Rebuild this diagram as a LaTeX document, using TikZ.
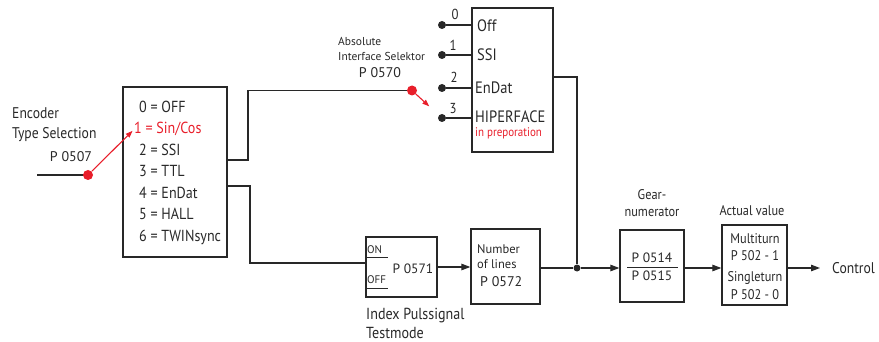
\documentclass[tikz,border=0pt]{standalone}
\usepackage{fontspec}
\setmainfont{PT Sans}[FakeStretch=0.88]
\newfontfamily\lblfont{PT Sans}
\usepackage{xcolor}
\usetikzlibrary{arrows.meta,positioning}
\definecolor{selred}{RGB}{232,30,42}
\definecolor{ink}{RGB}{40,40,40}
\newcommand{\fsz}[1]{\fontsize{#1}{#1}\selectfont}
\tikzset{
  blk/.style={draw=ink, line width=1.3pt, inner sep=0pt},
  txt/.style={inner sep=0pt, anchor=base west, text=ink},
  ctr/.style={inner sep=0pt, anchor=base, text=ink},
  wire/.style={line width=1.2pt, draw=ink},
  flowarr/.style={wire, -{Triangle[length=9pt,width=6.5pt]}},
  selarr/.style={line width=1.1pt, draw=selred, -{Triangle[length=7pt,width=5pt]}},
  reddot/.style={circle, fill=selred, inner sep=0pt, minimum size=10pt},
  contact/.style={circle, fill=ink, inner sep=0pt, minimum size=8pt},
}

\begin{document}
\begin{tikzpicture}[x=1pt, y=-1pt]
  \useasboundingbox (0,0) rectangle (879,342);
  % encoder type selection
  \node[txt, font=\fsz{15.5}] (enclblA) at (12,118.5) {Encoder};
  \node[txt, font=\fsz{15.5}] (enclblB) at (12,138.5) {Type Selection};
  \node[ctr, font=\lblfont\fsz{14}] (p507) at (71,162) {P 0507};
  \coordinate (encin) at (37,175);
  \node[blk, minimum width=104pt, minimum height=170pt] (enc) at (175,172) {};
  \node[txt, font=\fsz{16}] (opt0) at (139,112.5) {0 = OFF};
  \node[txt, font=\fsz{16}, text=selred] (opt1) at (134,134) {1 = Sin/Cos};
  \node[txt, font=\fsz{16}] (opt2) at (139,155.5) {2 = SSI};
  \node[txt, font=\fsz{16}] (opt3) at (139,177) {3 = TTL};
  \node[txt, font=\fsz{16}] (opt4) at (139,198.5) {4 = EnDat};
  \node[txt, font=\fsz{16}] (opt5) at (139,220) {5 = HALL};
  \node[txt, font=\fsz{16}] (opt6) at (139,241.5) {6 = TWINsync};
  \coordinate (encoutA) at (227,160);
  \coordinate (encoutB) at (227,186);
  \draw[wire] (encin) -- (88,175) node[reddot] (encsw) {};
  \draw[selarr, shorten >=2pt] (encsw) -- (opt1.west);
  % absolute interface
  \node[txt, font=\lblfont\fsz{11.5}] (abslblA) at (338,46) {Absolute};
  \node[txt, font=\lblfont\fsz{11.5}] (abslblB) at (338,61) {Interface Selektor};
  \node[ctr, font=\lblfont\fsz{14}] (p570) at (380,78) {P 0570};
  \node[blk, minimum width=81pt, minimum height=144pt] (ifbox) at (512.5,80) {};
  \node[contact] (c0) at (442,25) {};
  \node[contact] (c1) at (442,55) {};
  \node[contact] (c2) at (442,88) {};
  \node[contact] (c3) at (442,118) {};
  \node[ctr, font=\fsz{14.5}] (n0) at (455,19.5) {0};
  \node[ctr, font=\fsz{14.5}] (n1) at (453,51) {1};
  \node[ctr, font=\fsz{14.5}] (n2) at (454,82.5) {2};
  \node[ctr, font=\fsz{14.5}] (n3) at (453,114) {3};
  \node[txt, font=\fsz{16.5}] (ifoff) at (477,31.8) {Off};
  \node[txt, font=\fsz{16.5}] (ifssi) at (477,60.8) {SSI};
  \node[txt, font=\fsz{16.5}] (ifendat) at (475,93.8) {EnDat};
  \node[txt, font=\fsz{16.5}] (ifhiper) at (475,122.8) {HIPERFACE};
  \node[txt, font=\fsz{12.5}, text=selred] (ifprep) at (475,137) {in preporation};
  \node[reddot] (ifsw) at (412,90.5) {};
  % index pulse and lines
  \node[blk, minimum width=71pt, minimum height=60pt] (p571) at (401.5,267) {};
  \node[txt, font=\lblfont\fsz{11}] (onlbl) at (367,254) {ON};
  \node[txt, font=\lblfont\fsz{11}] (offlbl) at (367,283.5) {OFF};
  \node[ctr, font=\lblfont\fsz{13.5}] (p571lbl) at (413,273) {P 0571};
  \node[txt, font=\fsz{16}] (idxlblA) at (366,319.5) {Index Pulssignal};
  \node[txt, font=\fsz{16}] (idxlblB) at (366,338.5) {Testmode};
  \node[blk, minimum width=69pt, minimum height=75pt] (nlines) at (505.5,266.5) {};
  \node[txt, font=\lblfont\fsz{12.5}] (nlblA) at (477,253) {Number};
  \node[txt, font=\lblfont\fsz{12.5}] (nlblB) at (477,268) {of lines};
  \node[txt, font=\lblfont\fsz{14}] (p572) at (480,287) {P 0572};
  \node[contact, minimum size=7pt] (junc) at (577,268) {};
  % gear and actual value
  \node[ctr, font=\fsz{14}] (gearlblA) at (652,200) {Gear-};
  \node[ctr, font=\fsz{14}] (gearlblB) at (652,216.7) {numerator};
  \node[blk, minimum width=64pt, minimum height=72pt] (gear) at (652,266) {};
  \node[ctr, font=\lblfont\fsz{13.5}] (p514) at (652,262) {P 0514};
  \node[ctr, font=\lblfont\fsz{13.5}] (p515) at (652,280.7) {P 0515};
  \node[ctr, font=\fsz{14}] (actlbl) at (752,215.7) {Actual value};
  \node[blk, minimum width=65pt, minimum height=80pt] (act) at (754.5,265) {};
  \node[ctr, font=\fsz{14}] (multi) at (755,243.3) {Multiturn};
  \node[ctr, font=\fsz{14}] (p5021) at (755,260) {P 502 - 1};
  \node[ctr, font=\fsz{14}] (single) at (755,281) {Singleturn};
  \node[ctr, font=\fsz{14}] (p5020) at (755,299) {P 502 - 0};
  \node[txt, font=\fsz{15.5}] (control) at (832,273.5) {Control};
  % connections
  \draw[wire] (encoutA) -- ++(21,0) |- (ifsw);
  \draw[wire] (encoutB) -- ++(23,0) |- ([yshift=4pt]p571.west);
  \draw[selarr, shorten >=13pt] (ifsw) -- (c3);
  \draw[wire] (c0) -- (c0 -| ifbox.west);
  \draw[wire] (c1) -- (c1 -| ifbox.west);
  \draw[wire] (c2) -- (c2 -| ifbox.west);
  \draw[wire] (c3) -- (c3 -| ifbox.west);
  \draw[wire] ([yshift=3pt]ifbox.east) -| (junc);
  \draw[line width=0.9pt, draw=ink] ([yshift=-3pt]onlbl.base west) -- ++(21,0);
  \draw[line width=0.9pt, draw=ink] ([yshift=-4.5pt]offlbl.base west) -- ++(21,0);
  \draw[flowarr] (p571.east) -- (p571.east -| nlines.west);
  \draw[wire] (nlines.east |- junc) -- (junc);
  \draw[flowarr] (junc) -- (junc -| gear.west);
  \draw[line width=1pt, draw=ink] ([xshift=-25pt, yshift=-1pt]gear.center) -- ([xshift=26pt, yshift=-1pt]gear.center);
  \draw[flowarr] (gear.east |- junc) -- (act.west |- junc);
  \draw[flowarr, shorten >=12pt] (act.east |- junc) -- (control.west |- junc);
\end{tikzpicture}
\end{document}
